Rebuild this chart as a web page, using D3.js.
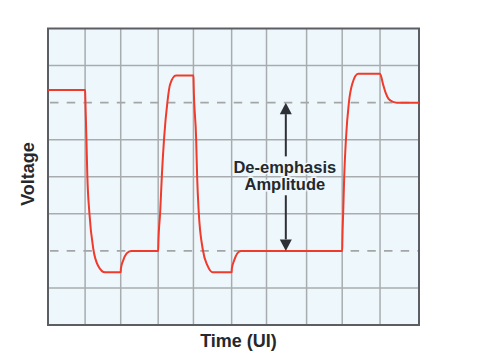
<!DOCTYPE html>
<html>
<head>
<meta charset="utf-8">
<script src="https://cdn.jsdelivr.net/npm/d3@7"></script>
<style>
  html, body { margin: 0; padding: 0; background: #fff; }
  svg { display: block; font-family: "Liberation Sans", Arial, sans-serif; }
</style>
</head>
<body>
<div id="chart"></div>
<script>
// Chart values (time in UI, voltage in grid divisions)
const timeGrid = [1.0, 1.96, 2.97, 3.92, 4.95, 5.89, 6.97, 7.93, 8.95];
const voltGrid = [1, 3, 4, 5, 7];
const emphasisLevels = [2, 6];

const waveT = [0, 1.0, 1.005, 1.035, 1.06, 1.115, 1.225, 1.35, 1.54,
  1.96, 1.965, 2.03, 2.12, 2.24,
  2.97, 2.975, 3.024, 3.07, 3.13, 3.22, 3.29, 3.45,
  3.92, 3.925, 3.993, 4.02, 4.063, 4.17, 4.30, 4.44,
  4.95, 4.955, 5.02, 5.1, 5.2,
  7.93, 7.935, 7.957, 7.984, 8.03, 8.11, 8.2, 8.36,
  8.95, 9.03, 9.1, 9.18, 9.3, 9.4, 10];
const waveV = [6.34, 6.34, 6.15, 5.05, 4.03, 3.03, 2.03, 1.6, 1.42,
  1.42, 1.52, 1.75, 1.93, 2.0,
  2.0, 2.2, 3.05, 4.05, 5.05, 6.03, 6.49, 6.73,
  6.73, 6.5, 5.03, 4.0, 3.05, 2.05, 1.6, 1.42,
  1.42, 1.52, 1.75, 1.93, 2.0,
  2.0, 2.3, 3.05, 4.0, 5.0, 6.0, 6.5, 6.78,
  6.78, 6.5, 6.27, 6.1, 6.02, 6.0, 6.0];

const arrowTime = 6.41;
const arrowUp = [4.55, 6.0];    // from, tip
const arrowDown = [3.5, 2.0];   // from, tip
const labelLines = ["De-emphasis", "Amplitude"];
const xTitle = "Time (UI)";
const yTitle = "Voltage";

// Layout
const width = 493, height = 358;
const x = d3.scaleLinear().domain([0, 10]).range([48, 419]);
const y = d3.scaleLinear().domain([0, 8]).range([325, 28.5]);

const svg = d3.select("#chart").append("svg")
  .attr("width", width)
  .attr("height", height);

// plot background
svg.append("rect")
  .attr("x", x(0)).attr("y", y(8))
  .attr("width", x(10) - x(0)).attr("height", y(0) - y(8))
  .attr("fill", "#eef8fc");

// grid
svg.append("g").selectAll("line")
  .data(timeGrid)
  .enter().append("line")
  .attr("x1", d => x(d)).attr("x2", d => x(d))
  .attr("y1", y(0)).attr("y2", y(8))
  .attr("stroke", "#a9acae")
  .attr("stroke-width", 1.5);

svg.append("g").selectAll("line")
  .data(voltGrid)
  .enter().append("line")
  .attr("x1", x(0)).attr("x2", x(10))
  .attr("y1", d => y(d)).attr("y2", d => y(d))
  .attr("stroke", "#a9acae")
  .attr("stroke-width", 1.5);

// de-emphasis levels (dashed)
svg.append("g").selectAll("line")
  .data(emphasisLevels)
  .enter().append("line")
  .attr("x1", x(0)).attr("x2", x(10))
  .attr("y1", d => y(d)).attr("y2", d => y(d))
  .attr("stroke", "#a3a5a7")
  .attr("stroke-width", 1.8)
  .attr("stroke-dasharray", "8.5,8.2")
  .attr("stroke-dashoffset", -2);

// frame
svg.append("rect")
  .attr("x", x(0)).attr("y", y(8))
  .attr("width", x(10) - x(0)).attr("height", y(0) - y(8))
  .attr("fill", "none")
  .attr("stroke", "#5b5e62")
  .attr("stroke-width", 2);

// waveform
const wave = waveT.map((t, i) => [t, waveV[i]]);
const line = d3.line()
  .x(d => x(d[0]))
  .y(d => y(d[1]))
  .curve(d3.curveMonotoneX);

svg.append("path")
  .datum(wave)
  .attr("d", line)
  .attr("fill", "none")
  .attr("stroke", "#f03a2b")
  .attr("stroke-width", 2)
  .attr("stroke-linejoin", "round");

// arrows
const arrowColor = "#2d3036";
const headLen = 11.5, headHalf = 6;
function arrow(from, tip) {
  const ax = x(arrowTime);
  const y0 = y(from), y1 = y(tip);
  const dir = y1 < y0 ? -1 : 1;
  const base = y1 - dir * headLen;
  svg.append("line")
    .attr("x1", ax).attr("x2", ax)
    .attr("y1", y0).attr("y2", base)
    .attr("stroke", arrowColor)
    .attr("stroke-width", 2);
  svg.append("path")
    .attr("d", `M${ax},${y1}L${ax - headHalf},${base}L${ax + headHalf},${base}Z`)
    .attr("fill", arrowColor);
}
arrow(arrowUp[0], arrowUp[1]);
arrow(arrowDown[0], arrowDown[1]);

// label in the middle
svg.append("text")
  .attr("x", x(arrowTime) - 1)
  .attr("y", 173)
  .attr("text-anchor", "middle")
  .style("font-size", "16.5px")
  .style("font-weight", "bold")
  .style("fill", "#25282d")
  .style("stroke", "#eef8fc")
  .style("stroke-width", 3)
  .style("paint-order", "stroke")
  .selectAll("tspan")
  .data(labelLines)
  .enter().append("tspan")
  .attr("x", x(arrowTime) - 1)
  .attr("dy", (d, i) => i === 0 ? 0 : 16.5)
  .text(d => d);

// axis titles
svg.append("text")
  .attr("x", (x(0) + x(10)) / 2 + 5)
  .attr("y", 346.7)
  .attr("text-anchor", "middle")
  .style("font-size", "18px")
  .style("font-weight", "bold")
  .style("fill", "#25282d")
  .text(xTitle);

svg.append("text")
  .attr("transform", `translate(33.5,${174}) rotate(-90)`)
  .attr("text-anchor", "middle")
  .style("font-size", "18px")
  .style("font-weight", "bold")
  .style("fill", "#25282d")
  .text(yTitle);
</script>
</body>
</html>
